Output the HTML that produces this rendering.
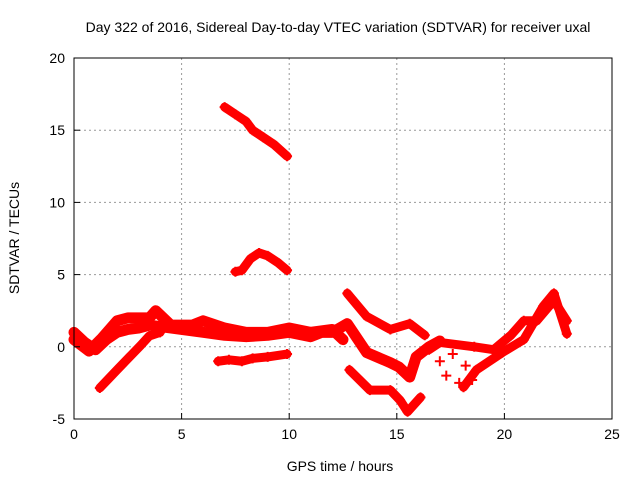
<!DOCTYPE html>
<html><head><meta charset="utf-8"><style>
body{margin:0;background:#fff;}
svg{display:block;font-family:"Liberation Sans",sans-serif;}
</style></head><body>
<svg id="chart" width="640" height="480">
<rect width="640" height="480" fill="#fff"/>
<text x="338" y="32" text-anchor="middle" font-size="14">Day 322 of 2016, Sidereal Day-to-day VTEC variation (SDTVAR) for receiver uxal</text>
<g id="grid"></g><g id="marks"></g><g id="axes"></g>
<text x="340" y="471" text-anchor="middle" font-size="14">GPS time / hours</text>
<text transform="translate(19,238) rotate(-90)" text-anchor="middle" font-size="14">SDTVAR / TECUs</text>
</svg>
<script>
const xTicks=[0,5,10,15,20,25];
const yTicks=[-5,0,5,10,15,20];
const trailA_x=[7.0,7.5,8.0,8.3,8.8,9.3,9.9];
const trailA_y=[16.6,16.1,15.6,15.0,14.5,14.0,13.2];
const trailB_x=[7.5,7.8,8.2,8.6,9.0,9.5,9.9];
const trailB_y=[5.2,5.3,6.1,6.5,6.3,5.8,5.3];
const trailC_x=[6.7,7.2,7.8,8.3,9.0,9.9];
const trailC_y=[-1.0,-0.9,-1.0,-0.8,-0.7,-0.5];
const trailD_x=[1.2,2.0,3.1,3.5,4.0];
const trailD_y=[-2.85,-1.6,0.1,0.75,1.0];
const trailE_x=[0,0.5,1.0,1.5,2,2.5,3,3.5,4,5,6,7,8,9,10];
const trailE_y=[1.0,0.3,-0.2,0.5,1.0,1.2,1.3,1.5,1.4,1.2,1.0,0.8,0.7,0.8,1.0];
const trailF_x=[0,0.7,1.3,2,2.5,3.5,3.8,4.5,5.5,6,7,8,9,10,11,12,12.5];
const trailF_y=[0.5,-0.3,0.6,1.8,2.0,2.0,2.5,1.5,1.5,1.8,1.3,1.0,1.0,1.3,1.0,1.2,0.5];
const trailG_x=[12.7,13.6,14.7,15.6,16.3];
const trailG_y=[3.7,2.1,1.2,1.6,0.8];
const trailH_x=[10,11,11.5,12,12.7,13.6,14.7,15.1,15.6,15.9,16.5,17];
const trailH_y=[1.0,0.7,1.0,1.0,1.6,-0.4,-1.1,-1.4,-2.1,-0.7,0.0,0.4];
const trailI_x=[12.8,13.75,14.7,15.15,15.5,16.1];
const trailI_y=[-1.6,-3.0,-3.0,-3.7,-4.5,-3.5];
const trailJ_x=[17.0,17.3,17.6,17.9,18.2,18.5];
const trailJ_y=[-1.0,-2.0,-0.5,-2.5,-1.3,-2.3];
const trailK_x=[18.1,18.7,19.9,20.9,21.8,22.3,22.9];
const trailK_y=[-2.8,-1.6,-0.4,0.5,2.8,3.7,0.9];
const trailL_x=[16.5,17.0,18.6,19.5,20.3,20.9,21.5,22.3,22.9];
const trailL_y=[-0.2,0.3,0.0,-0.2,0.8,1.8,1.8,3.2,1.8];
const trails=[[trailA_x,trailA_y],[trailB_x,trailB_y],[trailC_x,trailC_y],[trailD_x,trailD_y],[trailE_x,trailE_y],[trailF_x,trailF_y],[trailG_x,trailG_y],[trailH_x,trailH_y],[trailI_x,trailI_y],[trailJ_x,trailJ_y],[trailK_x,trailK_y],[trailL_x,trailL_y]];
const L=74,R=612,T=58,B=419;
const sx=v=>L+(v-0)/25*(R-L);
const sy=v=>B-(v+5)/25*(B-T);
const NS="http://www.w3.org/2000/svg";
function mk(tag,attrs,parent){const e=document.createElementNS(NS,tag);for(const k in attrs)e.setAttribute(k,attrs[k]);parent.appendChild(e);return e;}
const grid=document.getElementById('grid'),axes=document.getElementById('axes'),marks=document.getElementById('marks');
xTicks.forEach(t=>{
  const x=sx(t);
  if(t>0&&t<25){const g=mk('line',{x1:x,x2:x,y1:T,y2:B,stroke:'#999','stroke-dasharray':'2,3','stroke-width':1},grid);
  
  }
  const tk=mk('line',{x1:x,x2:x,y1:B,y2:B-6,stroke:'#000'},axes);
  
  
  const tx=mk('text',{x:x,y:B+20,'text-anchor':'middle','font-size':14},axes);tx.textContent=t;
  
  
});
yTicks.forEach(t=>{
  const y=sy(t);
  if(t>-5&&t<20){const g=mk('line',{x1:L,x2:R,y1:y,y2:y,stroke:'#999','stroke-dasharray':'2,3','stroke-width':1},grid);
  
  }
  const tk=mk('line',{x1:L,x2:L+6,y1:y,y2:y,stroke:'#000'},axes);
  
  
  const tx=mk('text',{x:L-9,y:y+5,'text-anchor':'end','font-size':14},axes);tx.textContent=t;
  
  
});
const frame=mk('rect',{x:L,y:T,width:R-L,height:B-T,fill:'none',stroke:'#000','stroke-width':1},axes);


trails.forEach((tr,i)=>{
  const [xs,ys]=tr;
  const pts=xs.map((x,j)=>sx(x)+','+sy(ys[j])).join(' ');
  if(i!==9){
    const pl=mk('polyline',{points:pts,fill:'none',stroke:'#f00','stroke-width':(i===4||i===5||i===7)?11:9,'stroke-linejoin':'round','stroke-linecap':'round'},marks);
    
    
  }
  xs.forEach((x,j)=>{
    const cx=sx(x),cy=sy(ys[j]);
    const p=mk('path',{d:`M${cx-5},${cy}h10M${cx},${cy-5}v10`,stroke:'#f00','stroke-width':2},marks);
    
    
  });
});
</script>
</body></html>
